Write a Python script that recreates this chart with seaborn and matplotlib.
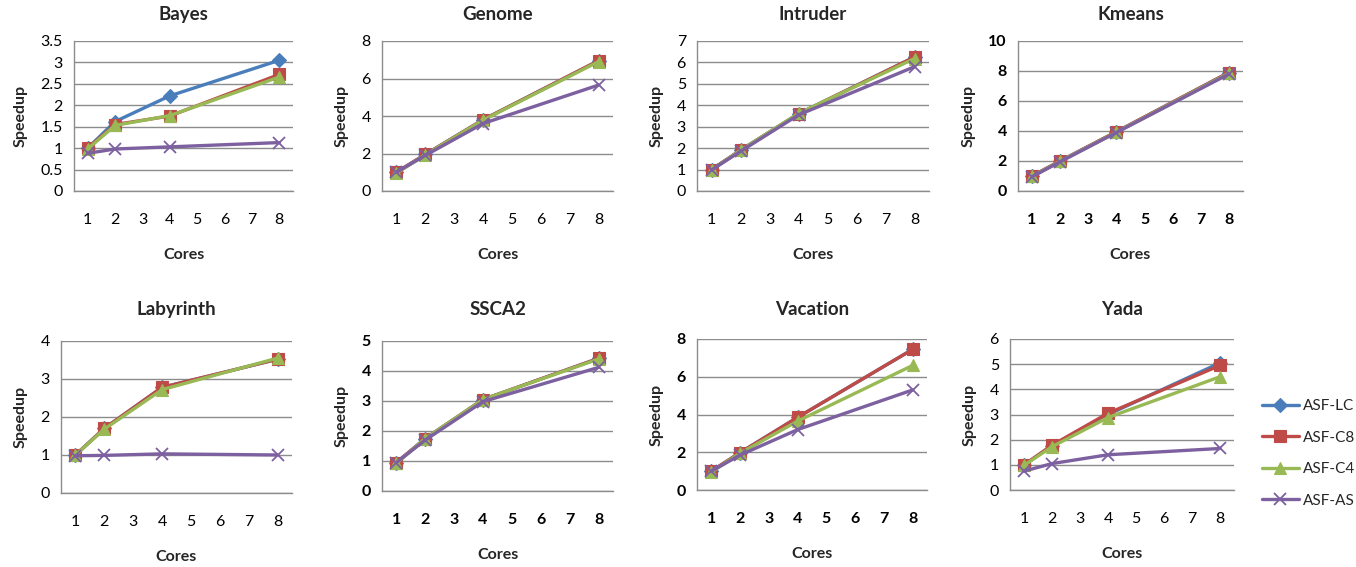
import numpy as np
import pandas as pd
import matplotlib
matplotlib.use("Agg")
import matplotlib.pyplot as plt
import seaborn as sns
from matplotlib.lines import Line2D

sns.set_style("white")
plt.rcParams['font.family'] = ['Lato', 'DejaVu Sans']

# Data
cores = [1, 2, 4, 8]
series = ['ASF-LC', 'ASF-C8', 'ASF-C4', 'ASF-AS']

bayes_lc = [1.00, 1.62, 2.22, 3.05]
bayes_c8 = [1.00, 1.55, 1.75, 2.72]
bayes_c4 = [0.98, 1.53, 1.76, 2.66]
bayes_as = [0.88, 0.98, 1.03, 1.13]

genome_lc = [1.00, 1.95, 3.80, 6.95]
genome_c8 = [1.00, 1.95, 3.80, 6.95]
genome_c4 = [0.95, 1.93, 3.78, 6.90]
genome_as = [1.00, 1.90, 3.60, 5.65]

intruder_lc = [1.00, 1.90, 3.60, 6.25]
intruder_c8 = [1.00, 1.90, 3.60, 6.25]
intruder_c4 = [0.98, 1.90, 3.62, 6.18]
intruder_as = [0.98, 1.85, 3.55, 5.80]

kmeans_lc = [1.00, 2.00, 3.95, 7.90]
kmeans_c8 = [1.00, 2.00, 3.95, 7.90]
kmeans_c4 = [0.98, 1.98, 3.92, 7.85]
kmeans_as = [0.95, 1.95, 3.90, 7.80]

labyrinth_lc = [1.00, 1.70, 2.78, 3.52]
labyrinth_c8 = [1.00, 1.70, 2.78, 3.52]
labyrinth_c4 = [1.00, 1.68, 2.72, 3.55]
labyrinth_as = [0.98, 0.99, 1.03, 1.00]

ssca2_lc = [0.95, 1.75, 3.05, 4.42]
ssca2_c8 = [0.95, 1.75, 3.05, 4.42]
ssca2_c4 = [0.92, 1.75, 3.05, 4.40]
ssca2_as = [0.95, 1.70, 2.98, 4.12]

vacation_lc = [1.00, 1.98, 3.85, 7.45]
vacation_c8 = [1.00, 1.98, 3.85, 7.45]
vacation_c4 = [0.95, 1.95, 3.65, 6.60]
vacation_as = [1.00, 1.85, 3.20, 5.30]

yada_lc = [1.00, 1.75, 3.00, 5.05]
yada_c8 = [1.00, 1.78, 3.05, 4.95]
yada_c4 = [0.98, 1.72, 2.88, 4.50]
yada_as = [0.75, 1.05, 1.40, 1.65]

panels = [
    ('Bayes', [bayes_lc, bayes_c8, bayes_c4, bayes_as], 3.5, 0.5, False),
    ('Genome', [genome_lc, genome_c8, genome_c4, genome_as], 8, 2, False),
    ('Intruder', [intruder_lc, intruder_c8, intruder_c4, intruder_as], 7, 1, False),
    ('Kmeans', [kmeans_lc, kmeans_c8, kmeans_c4, kmeans_as], 10, 2, True),
    ('Labyrinth', [labyrinth_lc, labyrinth_c8, labyrinth_c4, labyrinth_as], 4, 1, False),
    ('SSCA2', [ssca2_lc, ssca2_c8, ssca2_c4, ssca2_as], 5, 1, True),
    ('Vacation', [vacation_lc, vacation_c8, vacation_c4, vacation_as], 8, 2, True),
    ('Yada', [yada_lc, yada_c8, yada_c4, yada_as], 6, 1, False),
]

colors = ['#4A7EBB', '#BE4B48', '#98B954', '#7D60A0']
markers = ['D', 's', '^', 'x']
msizes = [7, 8, 9, 9]

# axes rectangles in pixels (left, top, right, bottom)
W, H = 1356, 567
boxes = [
    (74, 41, 293, 191), (382, 41, 613, 191), (697, 41, 929, 191), (1018, 41, 1243, 191),
    (61, 341, 292, 493), (382, 341, 613, 491), (697, 339, 927, 490), (1010, 339, 1234, 490),
]

fig = plt.figure(figsize=(W / 100, H / 100), dpi=100)
grid_col = '#8C8C8C'

for k, ((name, vals, ymax, step, bold), (l, t, r, b)) in enumerate(zip(panels, boxes)):
    ax = fig.add_axes([l / W, 1 - b / H, (r - l) / W, (b - t) / H])
    for i, s in enumerate(series):
        df = pd.DataFrame({'Cores': cores, 'Speedup': vals[i]})
        sns.lineplot(data=df, x='Cores', y='Speedup', ax=ax, color=colors[i],
                     linewidth=2.4, marker=markers[i], markersize=msizes[i],
                     markeredgecolor=colors[i], markeredgewidth=1.3 if markers[i] == 'x' else 0.8)
    ax.set_xlim(0.5, 8.5)
    ax.set_ylim(0, ymax)
    ax.set_yticks(np.arange(0, ymax + step / 2, step))
    ax.set_yticklabels([f'{v:g}' for v in np.arange(0, ymax + step / 2, step)])
    ax.set_xticks(range(1, 9))
    ax.set_xticks(np.arange(0.5, 9, 1), minor=True)
    ax.yaxis.grid(True, color=grid_col, linewidth=1)
    ax.set_axisbelow(True)
    for sp in ['top', 'right']:
        ax.spines[sp].set_visible(False)
    for sp in ['left', 'bottom']:
        ax.spines[sp].set_color(grid_col)
        ax.spines[sp].set_linewidth(1)
    weight = 'bold' if bold else 'normal'
    ax.tick_params(axis='x', which='major', length=0, pad=16, labelsize=11.5, colors='black')
    ax.tick_params(axis='x', which='minor', length=5, direction='out', color=grid_col, width=1)
    ax.tick_params(axis='y', which='major', length=5, direction='out', color=grid_col, width=1,
                   labelsize=11.5, labelcolor='black', pad=3)
    for lab in ax.get_xticklabels() + ax.get_yticklabels():
        lab.set_fontweight(weight)
    ax.set_xlabel('Cores', fontsize=11.5, fontweight='bold', labelpad=15)
    ax.set_ylabel('Speedup', fontsize=11.5, fontweight='bold', labelpad=9)
    # title sits just above the axes in row 1, a bit higher in row 2
    title_top = 12 if k < 4 else 307
    ax.set_title(name, fontsize=13.5, fontweight='bold',
                 pad=(t - title_top - 8) * 0.72)

handles = [Line2D([0], [0], color=colors[i], linewidth=2.4, marker=markers[i],
                  markersize=msizes[i], markeredgecolor=colors[i],
                  markeredgewidth=1.3 if markers[i] == 'x' else 0.8) for i in range(4)]
fig.legend(handles, series, loc='upper left', bbox_to_anchor=(1256 / W, 1 - 393 / H),
           frameon=False, fontsize=11, labelspacing=1.15, handlelength=2.4,
           handletextpad=0.3, borderaxespad=0)

fig.savefig('out.png', dpi=100)
